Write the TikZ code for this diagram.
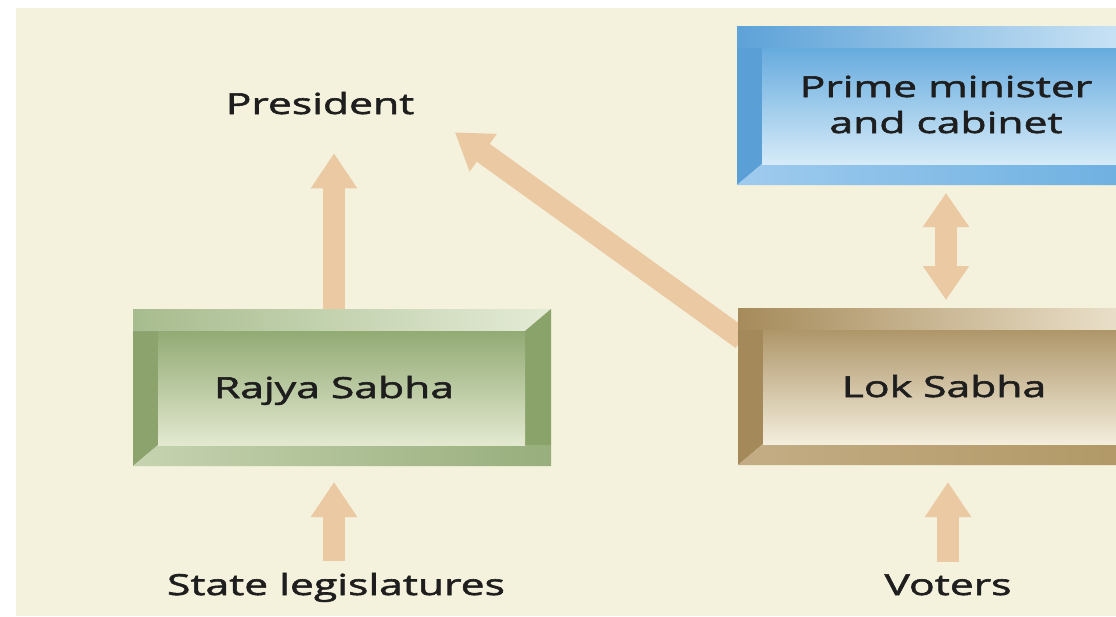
\documentclass[tikz,border=0pt]{standalone}
\usepackage{fontspec}
\setmainfont{Open Sans}[FakeStretch=1.47,FakeBold=2]
\usetikzlibrary{arrows.meta,calc}
\pgfdeclarelayer{back}
\pgfdeclarelayer{arrowlayer}
\pgfsetlayers{back,arrowlayer,main}
\definecolor{cream}{HTML}{F4F1DC}
\definecolor{peach}{HTML}{EBC9A2}
\definecolor{txt}{HTML}{1E1E1E}
% green
\definecolor{gL}{HTML}{8CA36E}\definecolor{gR}{HTML}{8AA36B}
\definecolor{gT1}{HTML}{A7BC8E}\definecolor{gT2}{HTML}{E4EBD6}
\definecolor{gB1}{HTML}{C6D3B0}\definecolor{gBm}{HTML}{D8E1C6}\definecolor{gB2}{HTML}{98AE7C}
\definecolor{gF1}{HTML}{92AA74}\definecolor{gF2}{HTML}{E3E9D0}
% brown
\definecolor{bL}{HTML}{A48A5A}\definecolor{bR}{HTML}{A88F60}
\definecolor{bT1}{HTML}{A68B5B}\definecolor{bT2}{HTML}{EFE6D2}
\definecolor{bB1}{HTML}{C4AD85}\definecolor{bBm}{HTML}{EEE5D1}\definecolor{bB2}{HTML}{B09764}
\definecolor{bF1}{HTML}{AE9669}\definecolor{bF2}{HTML}{F4EEDD}
% blue
\definecolor{uL}{HTML}{5A9FD6}\definecolor{uR}{HTML}{5FA4D9}
\definecolor{uT1}{HTML}{5DA2D8}\definecolor{uT2}{HTML}{D2E8F7}
\definecolor{uB1}{HTML}{9FCBEE}\definecolor{uBm}{HTML}{B8DAF3}\definecolor{uB2}{HTML}{6AAEE0}
\definecolor{uF1}{HTML}{66ABDE}\definecolor{uF2}{HTML}{D6EBF8}
\newcommand\bevbox[5]{%
  \fill[#1L] (#2,#3+22) -- (#2+25,#3+22) -- (#2+25,#5-21) -- (#2,#5) -- cycle;
  \shade[left color=#1T1,right color=#1T2] (#2,#3) -- (#4,#3) -- (#4-26,#3+22) -- (#2,#3+22) -- cycle;
  \fill[#1R] (#4-26,#3+22) -- (#4,#3) -- (#4,#5-21) -- (#4-26,#5-21) -- cycle;
  \shade[left color=#1B1,middle color=#1Bm,right color=#1B2] (#2,#5) -- (#2+25,#5-21) -- (#4,#5-21) -- (#4,#5) -- cycle;
  \shade[top color=#1F1,bottom color=#1F2] (#2+25,#3+22) rectangle (#4-26,#5-21);
}
\tikzset{
  boxn/.style={inner sep=0pt,outer sep=0pt,draw=none},
  lbl/.style={inner sep=0pt,outer sep=0pt,text=txt,font=\fontsize{29}{36}\selectfont,anchor=base,align=center},
  arr/.style={draw=peach,line width=22pt,-{Triangle[width=44pt,length=35pt]}},
  arrtwo/.style={draw=peach,line width=22pt,{Triangle[width=44pt,length=34pt]}-{Triangle[width=44pt,length=34pt]}}
}
\begin{document}
\begin{tikzpicture}[x=1pt,y=-1pt]
\useasboundingbox (0,0) rectangle (1116,616);
\clip (0,0) rectangle (1116,616);
\begin{pgfonlayer}{back}
\fill[white] (0,0) rectangle (1116,616);
\fill[cream] (16,8) rectangle (1116,616);
\end{pgfonlayer}
% box nodes
\node[boxn,minimum width=418pt,minimum height=157pt] (rs) at (342,387.5) {};
\node[boxn,minimum width=412pt,minimum height=157pt] (ls) at (944,386.5) {};
\node[boxn,minimum width=418pt,minimum height=159pt] (pm) at (946,105.5) {};
\bevbox{g}{133}{309}{551}{466}
\bevbox{b}{738}{308}{1150}{465}
\bevbox{u}{737}{26}{1155}{185}
% labels
\node[lbl] (pres) at (320,114) {President};
\node[lbl] (pml) at (946,133) {Prime minister\\and cabinet};
\node[lbl] (rsl) at (334,398) {Rajya Sabha};
\node[lbl] (lsl) at (944,397) {Lok Sabha};
\node[lbl] (sl) at (336,595) {State legislatures};
\node[lbl] (vot) at (948,595) {Voters};
% arrows
\begin{pgfonlayer}{arrowlayer}
\draw[arr,shorten >=39pt] (rs.north -| rsl) -- (rsl |- pres.south);
\draw[arr,shorten >=50pt] ($(ls.north west)+(4,31)$) -- (pres.east);
\draw[arrtwo,shorten <=8pt,shorten >=8pt] (pm.south) -- (pm.south |- ls.north);
\draw[arr,shorten <=12pt,shorten >=17pt] (vot.north) -- (vot.north |- ls.south);
\draw[arr,shorten <=12pt,shorten >=16pt] (sl.north -| rsl) -- (rsl |- rs.south);
\end{pgfonlayer}
\end{tikzpicture}
\end{document}
